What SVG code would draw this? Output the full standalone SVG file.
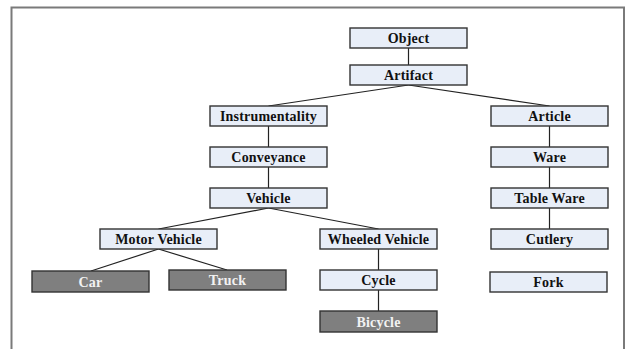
<svg xmlns="http://www.w3.org/2000/svg" width="633" height="349" viewBox="0 0 633 349">
<style>
.box{fill:#E8EEF8;stroke:#333;stroke-width:1.4}
.dbox{fill:#7F7F7F;stroke:#333;stroke-width:1.4}
.t{font-family:"Liberation Serif","Times New Roman",serif;font-weight:bold;font-size:14px;letter-spacing:0.2px;text-anchor:middle;fill:#111}
.dt{fill:#F2F2F2}
.c{stroke:#222;stroke-width:1.2;fill:none}
</style>
<rect width="633" height="349" fill="#fff"/>
<path d="M11.5,350 V7.5 H624 V350" fill="none" stroke="#7a7a7a" stroke-width="2"/>
<g id="connectors">
<line class="c" x1="408.5" y1="48" x2="408.5" y2="65"/>
<line class="c" x1="408.5" y1="85" x2="268.5" y2="106"/>
<line class="c" x1="408.5" y1="85" x2="549.5" y2="106"/>
<line class="c" x1="268.5" y1="126" x2="268.5" y2="147"/>
<line class="c" x1="268.5" y1="167" x2="268.5" y2="188"/>
<line class="c" x1="268.5" y1="208" x2="158.5" y2="229"/>
<line class="c" x1="268.5" y1="208" x2="378.5" y2="229"/>
<line class="c" x1="158.5" y1="249" x2="91" y2="271"/>
<line class="c" x1="158.5" y1="249" x2="227" y2="270"/>
<line class="c" x1="378.5" y1="249" x2="378.5" y2="270"/>
<line class="c" x1="378.5" y1="290" x2="378.5" y2="311"/>
<line class="c" x1="549.5" y1="126" x2="549.5" y2="147"/>
<line class="c" x1="549.5" y1="167" x2="549.5" y2="188"/>
<line class="c" x1="549.5" y1="208" x2="549.5" y2="229"/>
</g>
<g id="object"><rect class="box" x="350" y="28" width="117" height="20"/><text class="t" x="408.5" y="43">Object</text></g>
<g id="artifact"><rect class="box" x="350" y="65" width="117" height="20"/><text class="t" x="408.5" y="80">Artifact</text></g>
<g id="instrumentality"><rect class="box" x="210" y="106" width="117" height="20"/><text class="t" x="268.5" y="121">Instrumentality</text></g>
<g id="article"><rect class="box" x="491" y="106" width="117" height="20"/><text class="t" x="549.5" y="121">Article</text></g>
<g id="conveyance"><rect class="box" x="210" y="147" width="117" height="20"/><text class="t" x="268.5" y="162">Conveyance</text></g>
<g id="ware"><rect class="box" x="491" y="147" width="117" height="20"/><text class="t" x="549.5" y="162">Ware</text></g>
<g id="vehicle"><rect class="box" x="210" y="188" width="117" height="20"/><text class="t" x="268.5" y="203">Vehicle</text></g>
<g id="tableware"><rect class="box" x="491" y="188" width="117" height="20"/><text class="t" x="549.5" y="203">Table Ware</text></g>
<g id="motorvehicle"><rect class="box" x="100" y="229" width="117" height="20"/><text class="t" x="158.5" y="244">Motor Vehicle</text></g>
<g id="wheeledvehicle"><rect class="box" x="320" y="229" width="117" height="20"/><text class="t" x="378.5" y="244">Wheeled Vehicle</text></g>
<g id="cutlery"><rect class="box" x="491" y="229" width="117" height="20"/><text class="t" x="549.5" y="244">Cutlery</text></g>
<g id="car"><rect class="dbox" x="32" y="271" width="117" height="21"/><text class="t dt" x="90.5" y="287">Car</text></g>
<g id="truck"><rect class="dbox" x="169" y="270" width="117" height="20"/><text class="t dt" x="227.5" y="285">Truck</text></g>
<g id="cycle"><rect class="box" x="320" y="270" width="117" height="20"/><text class="t" x="378.5" y="285">Cycle</text></g>
<g id="fork"><rect class="box" x="490" y="272" width="117" height="20"/><text class="t" x="548.5" y="287">Fork</text></g>
<g id="bicycle"><rect class="dbox" x="320" y="311" width="117" height="21"/><text class="t dt" x="378.5" y="327">Bicycle</text></g>
</svg>
